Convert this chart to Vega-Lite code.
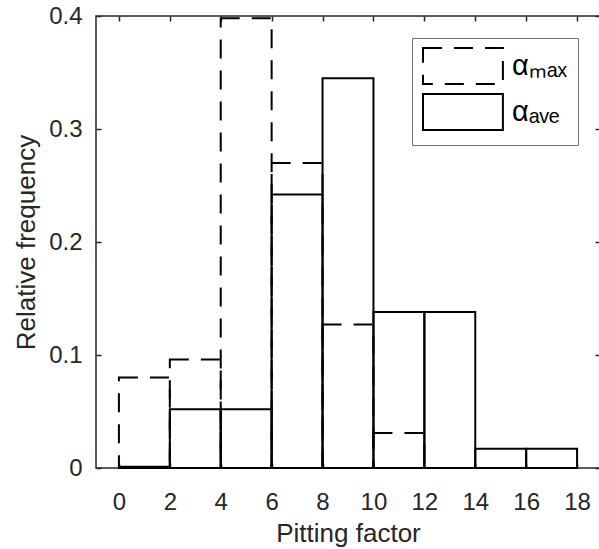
{
  "$schema": "https://vega.github.io/schema/vega-lite/v6.json",
  "width": 504,
  "height": 452,
  "autosize": {"type": "none"},
  "padding": {"left": 96, "top": 16, "right": 0, "bottom": 81},
  "background": "white",
  "config": {
    "font": "Liberation Sans",
    "view": {"stroke": "#262626", "strokeWidth": 1.5},
    "axis": {
      "grid": false,
      "domain": false,
      "tickColor": "#262626",
      "tickWidth": 1.5,
      "tickSize": -5,
      "labelColor": "#262626",
      "labelFontSize": 24,
      "titleColor": "#262626",
      "titleFontSize": 26,
      "titleFontWeight": "normal"
    }
  },
  "data": {
    "values": [
      {"series": "αₘₐₓ", "x0": 0, "x1": 2, "freq": 0.080},
      {"series": "αₘₐₓ", "x0": 2, "x1": 4, "freq": 0.096},
      {"series": "αₘₐₓ", "x0": 4, "x1": 6, "freq": 0.398},
      {"series": "αₘₐₓ", "x0": 6, "x1": 8, "freq": 0.270},
      {"series": "αₘₐₓ", "x0": 8, "x1": 10, "freq": 0.127},
      {"series": "αₘₐₓ", "x0": 10, "x1": 12, "freq": 0.031},
      {"series": "αₘₐₓ", "x0": 12, "x1": 14, "freq": 0},
      {"series": "αₘₐₓ", "x0": 14, "x1": 16, "freq": 0},
      {"series": "αₘₐₓ", "x0": 16, "x1": 18, "freq": 0},
      {"series": "αₐᵥₑ", "x0": 0, "x1": 2, "freq": 0.001},
      {"series": "αₐᵥₑ", "x0": 2, "x1": 4, "freq": 0.052},
      {"series": "αₐᵥₑ", "x0": 4, "x1": 6, "freq": 0.052},
      {"series": "αₐᵥₑ", "x0": 6, "x1": 8, "freq": 0.242},
      {"series": "αₐᵥₑ", "x0": 8, "x1": 10, "freq": 0.345},
      {"series": "αₐᵥₑ", "x0": 10, "x1": 12, "freq": 0.138},
      {"series": "αₐᵥₑ", "x0": 12, "x1": 14, "freq": 0.138},
      {"series": "αₐᵥₑ", "x0": 14, "x1": 16, "freq": 0.017},
      {"series": "αₐᵥₑ", "x0": 16, "x1": 18, "freq": 0.017}
    ]
  },
  "layer": [
    {
      "mark": {"type": "bar", "filled": false, "stroke": "black", "strokeWidth": 2, "fill": "transparent"},
      "encoding": {
        "x": {
          "field": "x0", "type": "quantitative",
          "scale": {"domain": [-0.9, 18.9], "nice": false, "zero": false},
          "axis": {"orient": "bottom", "values": [0, 2, 4, 6, 8, 10, 12, 14, 16, 18], "labelPadding": 27, "title": "Pitting factor", "titlePadding": 6}
        },
        "x2": {"field": "x1"},
        "y": {
          "field": "freq", "type": "quantitative",
          "scale": {"domain": [0, 0.4], "nice": false},
          "axis": {"orient": "left", "values": [0, 0.1, 0.2, 0.3, 0.4], "format": ".1~f", "labelPadding": 19, "title": "Relative frequency", "titlePadding": 9}
        },
        "y2": {"datum": 0},
        "strokeDash": {
          "field": "series", "type": "nominal",
          "scale": {"domain": ["αₘₐₓ", "αₐᵥₑ"], "range": [[19, 12], [1, 0]]},
          "legend": {
            "title": null,
            "orient": "none",
            "legendX": 316,
            "legendY": 22,
            "symbolType": "M-1,-1.06H3.7V1.06H-1Z",
            "symbolSize": 1156,
            "symbolStrokeWidth": 2,
            "symbolStrokeColor": "black",
            "symbolFillColor": "transparent",
            "labelFontSize": 29,
            "labelColor": "black",
            "labelOffset": 54,
            "labelLimit": 300,
            "strokeColor": "#707070",
            "fillColor": "white",
            "padding": 10,
            "rowPadding": 0
          }
        }
      }
    },
    {
      "mark": {"type": "bar", "opacity": 0},
      "encoding": {
        "x": {"field": "x0", "type": "quantitative", "axis": {"orient": "top", "values": [0, 2, 4, 6, 8, 10, 12, 14, 16, 18], "labels": false, "title": null}},
        "x2": {"field": "x1"},
        "y": {"field": "freq", "type": "quantitative", "axis": {"orient": "right", "values": [0, 0.1, 0.2, 0.3, 0.4], "labels": false, "title": null}},
        "y2": {"datum": 0}
      }
    }
  ],
  "resolve": {"axis": {"x": "independent", "y": "independent"}}
}
